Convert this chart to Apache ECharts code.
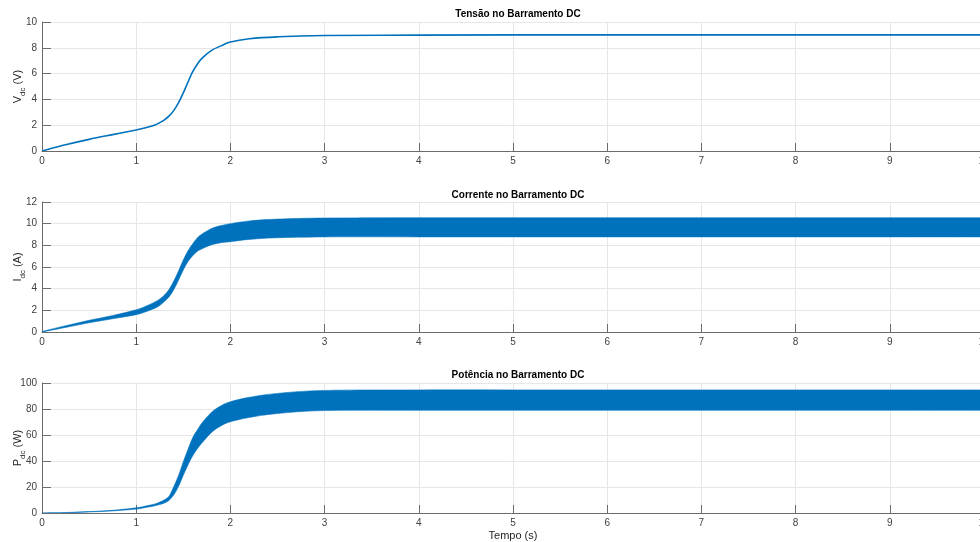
<!DOCTYPE html>
<html>
<head>
<meta charset="utf-8">
<title>Barramento DC</title>
<script src="https://cdn.jsdelivr.net/npm/echarts@6/dist/echarts.min.js"></script>
<style>
  html, body { margin: 0; padding: 0; background: #ffffff; }
  #chart { width: 980px; height: 542px; }
</style>
</head>
<body>
<div id="chart"></div>
<script>
// Sample instants (s)
const tempo = [0, 0.25, 0.5, 0.75, 1.0, 1.1, 1.2, 1.25, 1.3, 1.35, 1.4, 1.45, 1.5, 1.55, 1.6, 1.65, 1.7, 1.8, 1.9, 2.0, 2.2, 2.5, 3.0, 4, 5, 6, 7, 8, 9, 10];

// DC bus voltage (V)
const vdc = [0, 0.48, 0.9, 1.27, 1.63, 1.8, 2.02, 2.2, 2.42, 2.72, 3.15, 3.75, 4.5, 5.35, 6.15, 6.75, 7.2, 7.8, 8.15, 8.45, 8.7, 8.85, 8.95, 8.98, 9.0, 9.0, 9.0, 9.0, 9.0, 9.0];

// DC bus current ripple envelope (A)
const idcMin = [0, 0.42, 0.85, 1.22, 1.6, 1.86, 2.2, 2.45, 2.82, 3.25, 3.92, 4.8, 5.72, 6.5, 7.05, 7.45, 7.68, 8.05, 8.25, 8.34, 8.55, 8.7, 8.78, 8.78, 8.78, 8.78, 8.78, 8.78, 8.78, 8.78];
const idcMax = [0.05, 0.58, 1.08, 1.52, 2.05, 2.38, 2.78, 3.05, 3.42, 3.95, 4.72, 5.65, 6.65, 7.5, 8.15, 8.7, 9.05, 9.55, 9.82, 10.0, 10.25, 10.42, 10.52, 10.55, 10.55, 10.55, 10.55, 10.55, 10.55, 10.55];

// DC bus power ripple envelope (W)
const pdcMin = [0, 0.2, 0.8, 1.6, 3.0, 4.2, 5.6, 6.5, 7.7, 9.8, 14.0, 20.5, 29, 37, 44, 49.5, 54, 62, 67, 70.2, 73.5, 76.5, 78.8, 79, 79, 79, 79, 79, 79, 79];
const pdcMax = [0, 0.35, 1.1, 2.1, 4.0, 5.4, 7.0, 8.4, 10.2, 13.0, 20.5, 29, 39.5, 49, 58, 64, 69.5, 77.5, 82.5, 85.6, 89, 92, 94.3, 94.7, 94.7, 94.7, 94.7, 94.7, 94.7, 94.7];

// Axis ticks
const xTicks = { min: 0, max: 10, interval: 1 };
const yTicksV = { min: 0, max: 10, interval: 2 };
const yTicksI = { min: 0, max: 12, interval: 2 };
const yTicksP = { min: 0, max: 100, interval: 20 };

const titles = ['Tensão no Barramento DC', 'Corrente no Barramento DC', 'Potência no Barramento DC'];
const yNames = ['V{sub|dc} (V)', 'I{sub|dc} (A)', 'P{sub|dc} (W)'];
const xName = 'Tempo (s)';

const BLUE = '#0072BD';
const FONT = '"Liberation Sans", Arial, Helvetica, sans-serif';

const gridBase = { left: 42, width: 942, containLabel: false, outerBoundsMode: 'none' };
const grids = [
  Object.assign({ top: 22, height: 129 }, gridBase),
  Object.assign({ top: 202, height: 130 }, gridBase),
  Object.assign({ top: 383, height: 130 }, gridBase)
];

function xAxisFor(i) {
  const ax = {
    type: 'value', gridIndex: i,
    min: xTicks.min, max: xTicks.max, interval: xTicks.interval,
    axisLine: { show: true, onZero: false, lineStyle: { color: '#6b6b6b', width: 1 } },
    axisTick: { show: true, inside: true, length: 8, lineStyle: { color: '#6b6b6b' } },
    axisLabel: { color: '#404040', fontSize: 10, fontFamily: FONT, margin: 5 },
    splitLine: { show: true, lineStyle: { color: '#e6e6e6', width: 1 } }
  };
  if (i === 2) {
    ax.name = xName;
    ax.nameLocation = 'middle';
    ax.nameGap = 17;
    ax.nameMoveOverlap = false;
    ax.nameTextStyle = { color: '#262626', fontSize: 11, fontFamily: FONT };
  }
  return ax;
}

function yAxisFor(i, ticks) {
  return {
    type: 'value', gridIndex: i,
    min: ticks.min, max: ticks.max, interval: ticks.interval,
    name: yNames[i],
    nameLocation: 'middle',
    nameGap: 15,
    nameMoveOverlap: false,
    nameRotate: 90,
    nameTextStyle: {
      color: '#262626', fontSize: 11, fontFamily: FONT, lineHeight: 18,
      rich: { sub: { fontSize: 8, fontFamily: FONT, color: '#262626', verticalAlign: 'bottom' } }
    },
    axisLine: { show: true, onZero: false, lineStyle: { color: '#6b6b6b', width: 1 } },
    axisTick: { show: true, inside: true, length: 9, lineStyle: { color: '#6b6b6b' } },
    axisLabel: { color: '#404040', fontSize: 10, fontFamily: FONT, margin: 5 },
    splitLine: { show: true, lineStyle: { color: '#e6e6e6', width: 1 } }
  };
}

// Catmull-Rom curve through pixel points, as SVG path commands
function curvePath(pts, moveFirst) {
  let d = (moveFirst ? 'M' : 'L') + pts[0][0].toFixed(2) + ' ' + pts[0][1].toFixed(2);
  for (let k = 0; k < pts.length - 1; k++) {
    const p0 = pts[Math.max(k - 1, 0)];
    const p1 = pts[k];
    const p2 = pts[k + 1];
    const p3 = pts[Math.min(k + 2, pts.length - 1)];
    const c1x = p1[0] + (p2[0] - p0[0]) / 6, c1y = p1[1] + (p2[1] - p0[1]) / 6;
    const c2x = p2[0] - (p3[0] - p1[0]) / 6, c2y = p2[1] - (p3[1] - p1[1]) / 6;
    d += ' C' + c1x.toFixed(2) + ' ' + c1y.toFixed(2) + ' ' + c2x.toFixed(2) + ' ' + c2y.toFixed(2) +
         ' ' + p2[0].toFixed(2) + ' ' + p2[1].toFixed(2);
  }
  return d;
}

// Voltage trace
function lineSeries(idx, values) {
  const rows = tempo.map((t, k) => [t, values[k]]);
  return {
    type: 'custom', xAxisIndex: idx, yAxisIndex: idx,
    data: rows, clip: true,
    encode: { x: 0, y: 1 },
    renderItem: function (params, api) {
      if (params.dataIndex !== 0) return null;
      const pts = rows.map(r => api.coord(r));
      return {
        type: 'path',
        shape: { pathData: curvePath(pts, true) },
        style: { fill: null, stroke: BLUE, lineWidth: 1.6 }
      };
    },
    z: 3
  };
}

// Ripple band filled between the min and max envelopes
function bandSeries(idx, lo, hi) {
  const rows = tempo.map((t, k) => [t, lo[k], hi[k]]);
  return {
    type: 'custom', xAxisIndex: idx, yAxisIndex: idx,
    data: rows, clip: true,
    encode: { x: 0, y: [1, 2] },
    renderItem: function (params, api) {
      if (params.dataIndex !== 0) return null;
      const upper = rows.map(r => api.coord([r[0], r[2]]));
      const lower = rows.slice().reverse().map(r => api.coord([r[0], r[1]]));
      const d = curvePath(upper, true) + ' ' + curvePath(lower, false) + ' Z';
      return {
        type: 'path',
        shape: { pathData: d },
        style: { fill: BLUE, stroke: 'rgba(0,114,189,0.55)', lineWidth: 1 }
      };
    },
    z: 3
  };
}

const chart = echarts.init(document.getElementById('chart'), null, { renderer: 'canvas' });

chart.setOption({
  backgroundColor: '#ffffff',
  animation: false,
  title: titles.map((text, i) => ({
    text: text,
    left: 513,
    top: [4, 185, 365][i],
    textAlign: 'center',
    textStyle: { fontSize: 10, fontWeight: 'bold', color: '#000000', fontFamily: FONT }
  })),
  grid: grids,
  xAxis: [xAxisFor(0), xAxisFor(1), xAxisFor(2)],
  yAxis: [yAxisFor(0, yTicksV), yAxisFor(1, yTicksI), yAxisFor(2, yTicksP)],
  series: [
    lineSeries(0, vdc),
    bandSeries(1, idcMin, idcMax),
    bandSeries(2, pdcMin, pdcMax)
  ]
});
</script>
</body>
</html>
